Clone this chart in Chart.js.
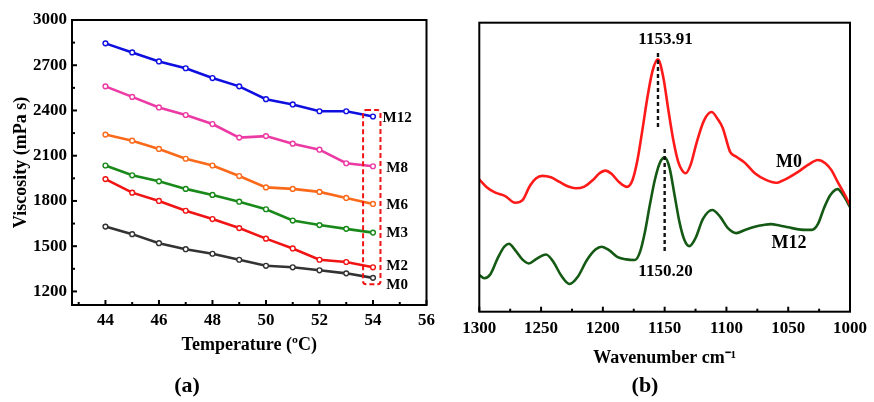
<!DOCTYPE html>
<html><head><meta charset="utf-8">
<script src="https://cdn.jsdelivr.net/npm/chart.js@4.4.1/dist/chart.umd.min.js"></script>
<style>
body{margin:0;background:#fff;}
#wrap{position:relative;width:874px;height:402px;overflow:hidden;background:#fff;}
canvas{position:absolute;top:0;}
.sub{position:absolute;font:bold 22px "Liberation Serif";color:#000;transform:translate(-50%,-50%);white-space:nowrap;}
</style></head><body>
<div id="wrap">
<canvas id="ca" width="440" height="402" style="left:0"></canvas>
<canvas id="cb" width="434" height="402" style="left:440px"></canvas>
<div class="sub" style="left:187px;top:385px">(a)</div>
<div class="sub" style="left:645px;top:385px">(b)</div>
</div>
<script>
// ---------- Panel (a): viscosity vs temperature ----------
const temperature = [44,45,46,47,48,49,50,51,52,53,54];
const viscM12 = [2845,2785,2725,2680,2615,2560,2475,2440,2395,2395,2360];
const viscM8  = [2560,2490,2420,2370,2310,2220,2230,2180,2140,2050,2030];
const viscM6  = [2240,2200,2145,2080,2035,1965,1890,1880,1860,1820,1780];
const viscM3  = [2035,1970,1930,1880,1840,1795,1745,1670,1640,1615,1590];
const viscM2  = [1945,1855,1800,1735,1680,1620,1550,1485,1410,1395,1360];
const viscM0  = [1630,1580,1520,1480,1450,1410,1370,1360,1340,1320,1290];
const seriesNamesA = ['M12','M8','M6','M3','M2','M0'];
const xTicksA = [44,46,48,50,52,54,56];
const xMinorA = [43,45,47,49,51,53,55];
const yTicksA = [1200,1500,1800,2100,2400,2700,3000];
const yMinorA = [1350,1650,1950,2250,2550,2850];
// label anchors (data units)
const labelXA = 54.9;
const labelYA = [2350,2019,1773,1587,1369,1243];
const boxA = {x0:53.63, x1:54.28, y0:1247, y1:2403};

// ---------- Panel (b): FTIR spectra ----------
const wnM0 = [1300,1294,1287,1279,1271,1265,1259,1254,1249,1242,1235,1228,1222,1215,1208,1203,1198,1193,1187,1180.5,1176,1172,1168,1164,1160,1155.5,1151,1147,1143,1139,1136,1133,1129,1124,1118,1112,1107,1103,1097,1092,1085,1077,1068,1060,1052,1042,1034,1026,1020,1015,1010,1005,1000];
const absM0 = [0.458,0.431,0.412,0.400,0.377,0.386,0.436,0.462,0.470,0.465,0.449,0.433,0.427,0.433,0.456,0.478,0.488,0.477,0.449,0.432,0.456,0.525,0.629,0.740,0.830,0.873,0.809,0.698,0.594,0.518,0.490,0.479,0.508,0.587,0.663,0.691,0.666,0.636,0.553,0.536,0.515,0.479,0.456,0.446,0.459,0.484,0.508,0.525,0.514,0.490,0.449,0.411,0.369];
const wnM12 = [1300,1296,1291,1285,1280,1276,1271,1265,1260,1254,1246,1240,1234,1227,1220,1213,1206,1201,1195,1188,1181,1174,1170,1166,1162,1158,1154,1150,1146,1142,1138,1134,1130,1125,1119,1111.5,1105,1099,1092,1085,1077,1070,1064,1057,1050,1040,1031,1026,1021,1016,1010,1005,1000];
const absM12 = [0.127,0.116,0.130,0.186,0.224,0.235,0.213,0.180,0.167,0.182,0.198,0.172,0.127,0.096,0.123,0.178,0.215,0.225,0.213,0.189,0.181,0.179,0.206,0.275,0.369,0.455,0.514,0.534,0.497,0.404,0.310,0.248,0.227,0.255,0.321,0.352,0.328,0.290,0.272,0.283,0.294,0.300,0.303,0.298,0.292,0.284,0.283,0.303,0.359,0.403,0.424,0.400,0.362];
const xTicksB = [1300,1250,1200,1150,1100,1050,1000];
const xMinorB = [1275,1225,1175,1125,1075,1025];
const peakLabels = ['1153.91','1150.20'];
const peakLineX = [1155.4,1150];
const peakLineY = [[0.636,0.895],[0.204,0.563]];
const peakLabelPos = [[1149.3,0.940],[1149.3,0.137]];
const seriesLabelsB = ['M0','M12'];
const seriesLabelPosB = [[1049.3,0.516],[1049.4,0.236]];

const FONT = 'Liberation Serif';
const tickFont = {family: FONT, size: 17, weight: 'bold'};
const titleFont = {family: FONT, size: 18, weight: 'bold'};
const plain = v => String(v);

function frame(chart){
  const {ctx, chartArea:a} = chart;
  ctx.save(); ctx.strokeStyle='#000'; ctx.lineWidth=2;
  ctx.strokeRect(a.left, a.top, a.right-a.left, a.bottom-a.top);
  ctx.restore();
}
function xTickMarks(chart, scale, vals, len){
  const {ctx, chartArea:a} = chart;
  ctx.save(); ctx.strokeStyle='#000'; ctx.lineWidth=2;
  vals.forEach(v=>{ const x=scale.getPixelForValue(v); ctx.beginPath(); ctx.moveTo(x,a.bottom); ctx.lineTo(x,a.bottom-len); ctx.stroke(); });
  ctx.restore();
}
function yTickMarks(chart, scale, vals, len){
  const {ctx, chartArea:a} = chart;
  ctx.save(); ctx.strokeStyle='#000'; ctx.lineWidth=2;
  vals.forEach(v=>{ const y=scale.getPixelForValue(v); ctx.beginPath(); ctx.moveTo(a.left,y); ctx.lineTo(a.left+len,y); ctx.stroke(); });
  ctx.restore();
}

const colorsA = ['#0f0fe0','#ec3aa4','#fa6a1a','#198a19','#f01414','#333333'];
const valuesA = [viscM12, viscM8, viscM6, viscM3, viscM2, viscM0];

new Chart(document.getElementById('ca'), {
  type: 'line',
  data: {
    datasets: seriesNamesA.map((n,i)=>({
      label: n,
      data: temperature.map((t,k)=>({x:t, y:valuesA[i][k]})),
      borderColor: colorsA[i], backgroundColor: '#fff',
      borderWidth: 2.6, pointRadius: 2.4, pointBorderWidth: 1.4,
      pointBackgroundColor: '#fff', pointBorderColor: colorsA[i], tension: 0
    }))
  },
  options: {
    responsive: false, animation: false, devicePixelRatio: 1,
    layout: {padding: {left: 0, top: 20, right: 12, bottom: 0}},
    plugins: {legend: {display: false}, tooltip: {enabled: false}},
    scales: {
      x: {
        type: 'linear', min: 42.75, max: 56,
        afterBuildTicks: s => { s.ticks = xTicksA.map(v=>({value:v})); },
        afterFit: s => { s.height = 97; },
        grid: {display: false, drawTicks: false}, border: {display: false},
        ticks: {font: tickFont, color: '#000', padding: 5, maxRotation: 0, autoSkip: false, callback: plain},
        title: {display: true, text: 'Temperature (ºC)', font: titleFont, color: '#000', padding: {top: 0, bottom: 46}}
      },
      y: {
        type: 'linear', min: 1110, max: 3000,
        afterBuildTicks: s => { s.ticks = yTicksA.map(v=>({value:v})); },
        afterFit: s => { s.width = 72; },
        grid: {display: false, drawTicks: false}, border: {display: false},
        ticks: {font: tickFont, color: '#000', padding: 5, autoSkip: false, callback: plain},
        title: {display: true, text: 'Viscosity (mPa s)', font: titleFont, color: '#000', padding: {top: 11, bottom: 0}}
      }
    }
  },
  plugins: [{
    id: 'decorA',
    afterDraw(chart){
      const {ctx} = chart; const xs = chart.scales.x, ys = chart.scales.y;
      frame(chart);
      xTickMarks(chart, xs, xTicksA, 5); xTickMarks(chart, xs, xMinorA, 3);
      yTickMarks(chart, ys, yTicksA, 5); yTickMarks(chart, ys, yMinorA, 3);
      const x0=xs.getPixelForValue(boxA.x0), x1=xs.getPixelForValue(boxA.x1);
      const y0=ys.getPixelForValue(boxA.y1), y1=ys.getPixelForValue(boxA.y0);
      ctx.save(); ctx.strokeStyle='#f01414'; ctx.lineWidth=2; ctx.setLineDash([5,3]);
      ctx.beginPath(); ctx.roundRect(x0,y0,x1-x0,y1-y0,3); ctx.stroke(); ctx.restore();
      ctx.save(); ctx.fillStyle='#000'; ctx.font='bold 15px "'+FONT+'"'; ctx.textAlign='center'; ctx.textBaseline='middle';
      seriesNamesA.forEach((n,i)=>ctx.fillText(n, xs.getPixelForValue(labelXA), ys.getPixelForValue(labelYA[i])));
      ctx.restore();
    }
  }]
});

new Chart(document.getElementById('cb'), {
  type: 'line',
  data: {
    datasets: [
      {label: 'M0', data: wnM0.map((w,k)=>({x:w, y:absM0[k]})), borderColor: '#ff1a1a', borderWidth: 2.6, pointRadius: 0, cubicInterpolationMode: 'monotone'},
      {label: 'M12', data: wnM12.map((w,k)=>({x:w, y:absM12[k]})), borderColor: '#145a14', borderWidth: 2.6, pointRadius: 0, cubicInterpolationMode: 'monotone'}
    ]
  },
  options: {
    responsive: false, animation: false, devicePixelRatio: 1,
    layout: {padding: {left: 39.3, top: 22.7, right: 19.7, bottom: 0}},
    plugins: {legend: {display: false}, tooltip: {enabled: false}},
    scales: {
      x: {
        type: 'linear', min: 1000, max: 1300, reverse: true,
        afterBuildTicks: s => { s.ticks = xTicksB.map(v=>({value:v})); },
        afterFit: s => { s.height = 90.3; },
        grid: {display: false, drawTicks: false}, border: {display: false},
        ticks: {font: tickFont, color: '#000', padding: 7, maxRotation: 0, autoSkip: false, callback: plain},
        title: {display: true, text: 'Wavenumber cm⁻¹', font: titleFont, color: '#000', padding: {top: 0, bottom: 33}}
      },
      y: {type: 'linear', min: 0, max: 1, display: false}
    }
  },
  plugins: [{
    id: 'decorB',
    afterDraw(chart){
      const {ctx} = chart; const xs = chart.scales.x, ys = chart.scales.y;
      frame(chart);
      xTickMarks(chart, xs, xTicksB, 5); xTickMarks(chart, xs, xMinorB, 3);
      ctx.save(); ctx.strokeStyle='#111'; ctx.lineWidth=2.4; ctx.setLineDash([4,3]);
      peakLineX.forEach((w,i)=>{ const x=xs.getPixelForValue(w); ctx.beginPath(); ctx.moveTo(x, ys.getPixelForValue(peakLineY[i][1])); ctx.lineTo(x, ys.getPixelForValue(peakLineY[i][0])); ctx.stroke(); });
      ctx.restore();
      ctx.save(); ctx.fillStyle='#000'; ctx.textAlign='center'; ctx.textBaseline='middle';
      ctx.font='bold 17px "'+FONT+'"';
      peakLabels.forEach((t,i)=>ctx.fillText(t, xs.getPixelForValue(peakLabelPos[i][0]), ys.getPixelForValue(peakLabelPos[i][1])));
      ctx.font='bold 18px "'+FONT+'"';
      seriesLabelsB.forEach((t,i)=>ctx.fillText(t, xs.getPixelForValue(seriesLabelPosB[i][0]), ys.getPixelForValue(seriesLabelPosB[i][1])));
      ctx.restore();
    }
  }]
});
</script>
</body></html>
